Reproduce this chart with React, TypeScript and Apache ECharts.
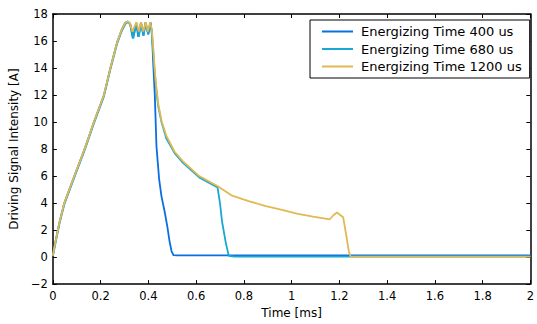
import React, { useEffect, useRef } from "react";
import * as echarts from "echarts";

// Time [ms] and current [A]
const t400 = [0, 0.005, 0.014, 0.028, 0.048, 0.09, 0.131, 0.172, 0.214, 0.241, 0.269, 0.29, 0.303, 0.313, 0.323, 0.335, 0.349, 0.358, 0.369, 0.379, 0.388, 0.4, 0.409, 0.415, 0.42, 0.427, 0.434, 0.445, 0.455, 0.469, 0.48, 0.489, 0.497, 0.505, 0.52, 1.0, 2.0];
const v400 = [0.1, 0.6, 1.4, 2.6, 4.0, 6.0, 7.9, 10.0, 12.0, 14.0, 15.9, 16.9, 17.35, 17.45, 17.3, 16.2, 17.3, 16.3, 17.4, 16.4, 17.4, 16.5, 17.4, 16.6, 14.5, 12.0, 8.2, 5.8, 4.5, 3.3, 2.2, 1.15, 0.45, 0.15, 0.12, 0.12, 0.12];

const t680 = [0, 0.005, 0.014, 0.028, 0.048, 0.09, 0.131, 0.172, 0.214, 0.241, 0.269, 0.29, 0.305, 0.315, 0.325, 0.337, 0.35, 0.36, 0.37, 0.38, 0.389, 0.399, 0.409, 0.415, 0.419, 0.425, 0.432, 0.441, 0.455, 0.475, 0.51, 0.544, 0.613, 0.69, 0.7, 0.709, 0.725, 0.737, 0.76, 2.0];
const v680 = [0.1, 0.5, 1.3, 2.5, 3.9, 5.9, 7.8, 9.9, 11.9, 13.9, 15.8, 16.8, 17.3, 17.4, 17.2, 16.2, 17.3, 16.3, 17.3, 16.4, 17.3, 16.5, 17.3, 16.5, 15.6, 14.0, 12.6, 11.2, 10.0, 8.8, 7.7, 7.0, 5.9, 5.15, 4.0, 2.6, 1.0, 0.1, 0.04, 0.04];

const t1200 = [0, 0.005, 0.014, 0.028, 0.048, 0.09, 0.131, 0.172, 0.214, 0.241, 0.269, 0.29, 0.303, 0.313, 0.323, 0.333, 0.35, 0.36, 0.369, 0.379, 0.389, 0.398, 0.407, 0.414, 0.419, 0.425, 0.432, 0.441, 0.455, 0.475, 0.51, 0.544, 0.613, 0.689, 0.751, 0.82, 0.888, 0.96, 1.026, 1.09, 1.16, 1.175, 1.19, 1.216, 1.23, 1.24, 1.247, 1.3, 2.0];
const v1200 = [0.1, 0.6, 1.4, 2.6, 4.0, 6.0, 7.9, 10.0, 12.0, 14.0, 15.9, 16.9, 17.35, 17.45, 17.3, 16.7, 17.4, 16.7, 17.4, 16.7, 17.4, 16.7, 17.4, 16.9, 15.9, 14.3, 12.8, 11.4, 10.1, 9.0, 7.8, 7.1, 6.0, 5.27, 4.55, 4.15, 3.8, 3.5, 3.2, 3.0, 2.8, 3.1, 3.3, 2.95, 1.5, 0.4, 0.04, 0.03, 0.03];

const seriesNames = ["Energizing Time 400 us", "Energizing Time 680 us", "Energizing Time 1200 us"];
const seriesColors = ["#0a6fe0", "#18a8d2", "#e0b952"];

const xTicks = { min: 0, max: 2, interval: 0.2 };
const yTicks = { min: -2, max: 18, interval: 2 };

const FONT = "DejaVu Sans";

function pairs(t: number[], v: number[]) {
  return t.map((x, i) => [x, v[i]]);
}

export default function App() {
  const ref = useRef<HTMLDivElement>(null);
  useEffect(() => {
    if (!ref.current) return;
    const chart = echarts.init(ref.current, undefined, { renderer: "svg" });
    const axisLine = { show: true, onZero: false, lineStyle: { color: "#000", width: 1.5 } };
    const axisTick = { show: true, inside: true, length: 4, lineStyle: { color: "#000", width: 1 } };
    const data = [pairs(t400, v400), pairs(t680, v680), pairs(t1200, v1200)];
    chart.setOption({
      animation: false,
      backgroundColor: "#fff",
      textStyle: { fontFamily: FONT },
      grid: { left: 48, right: 2, top: 14, bottom: 34, containLabel: false },
      legend: {
        show: true,
        orient: "vertical",
        left: 310,
        top: 20,
        data: seriesNames,
        itemWidth: 31,
        itemHeight: 14,
        itemGap: 4.5,
        padding: [5, 8, 5, 11],
        borderColor: "#000",
        borderWidth: 1,
        backgroundColor: "#fff",
        itemStyle: { opacity: 0 },
        textStyle: { fontFamily: FONT, fontSize: 13, color: "#000", padding: [0, 0, 0, 3] },
      },
      xAxis: [
        {
          type: "value",
          position: "bottom",
          ...xTicks,
          name: "Time [ms]",
          nameLocation: "middle",
          nameGap: 19,
          nameTextStyle: { fontFamily: FONT, fontSize: 12, color: "#000" },
          axisLine,
          axisTick,
          splitLine: { show: false },
          axisLabel: { color: "#000", fontFamily: FONT, fontSize: 11.5, margin: 6, showMaxLabel: true, showMinLabel: true, hideOverlap: false },
        },
        {
          type: "value",
          position: "top",
          ...xTicks,
          axisLine,
          axisTick,
          splitLine: { show: false },
          axisLabel: { show: false },
        },
      ],
      yAxis: [
        {
          type: "value",
          position: "left",
          ...yTicks,
          name: "Driving Signal Intensity [A]",
          nameLocation: "middle",
          nameGap: 26,
          nameTextStyle: { fontFamily: FONT, fontSize: 12, color: "#000" },
          axisLine,
          axisTick,
          splitLine: { show: false },
          axisLabel: {
            color: "#000",
            fontFamily: FONT,
            fontSize: 11.5,
            margin: 5,
            formatter: (v: number) => String(v).replace("-", "\u2212"),
          },
        },
        {
          type: "value",
          position: "right",
          ...yTicks,
          axisLine,
          axisTick,
          splitLine: { show: false },
          axisLabel: { show: false },
        },
      ],
      series: data.map((d, i) => ({
        name: seriesNames[i],
        type: "line",
        xAxisIndex: 0,
        yAxisIndex: 0,
        data: d,
        symbol: "none",
        showSymbol: false,
        smooth: false,
        color: seriesColors[i],
        lineStyle: { color: seriesColors[i], width: 1.8 },
        z: 2 + i,
      })),
    });
    return () => chart.dispose();
  }, []);
  return <div ref={ref} style={{ position: "fixed", left: 0, top: 0, width: 537, height: 324 }} />;
}
